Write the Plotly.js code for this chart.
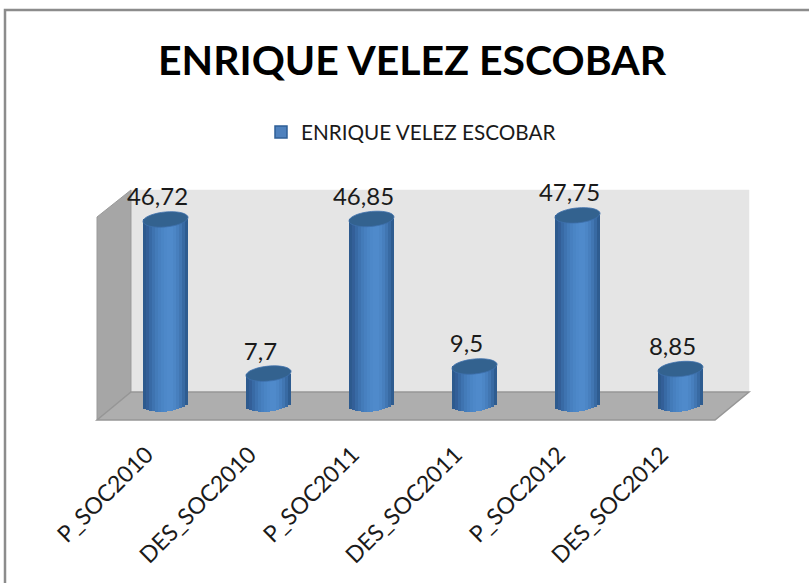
<!DOCTYPE html>
<html>
<head>
<meta charset="utf-8">
<script src="https://cdn.plot.ly/plotly-3.0.1.min.js"></script>
<style>html,body{margin:0;padding:0;background:#fff}#c{width:809px;height:583px}</style>
</head>
<body>
<div id="c"></div>
<script>
const categories = ['P_SOC2010','DES_SOC2010','P_SOC2011','DES_SOC2011','P_SOC2012','DES_SOC2012'];
const values = [46.72, 7.7, 46.85, 9.5, 47.75, 8.85];
const valueLabels = ['46,72','7,7','46,85','9,5','47,75','8,85'];
const seriesName = 'ENRIQUE VELEZ ESCOBAR';
const shades = ['#2d5a8e','#335f98','#386aa5','#3e73b0','#437bb9','#4780c0','#4a85c5','#4d88c9','#4f8acb','#4f8acb','#4c86c6','#477fbe','#4176b2','#386aa3','#2e5c90'];

const W = 809, H = 583;
const L = 97, R = 749, T = 190, B = 420;     // plot area, px
const slot = 103, unit = 3.95, zeroPx = 404; // px per category, px per value
const depth = 17, labelShift = -8, labelLift = 8, tickShift = -2;
const halfW = 22.5, halfH = 7.5, tilt = 2;   // cylinder cap, px

const px = x => (x - L) / (R - L);
const py = y => (B - y) / (B - T);
const yMin = -(B - zeroPx) / unit, yMax = (zeroPx - T) / unit;
const xMin = -0.5, xMax = -0.5 + (R - L) / slot;
const idx = categories.map((_, i) => i);
const shift = depth / slot;

const n = shades.length, sliceW = 2 * halfW / n;
const sliceTraces = shades.map((c, s) => {
  const u = -1 + (2 * s + 1) / n;
  const lift = -halfH * Math.sqrt(1 - u * u) + tilt * u;
  const base = values.map(() => lift / unit);
  return {
    type: 'bar', name: seriesName, showlegend: false, hoverinfo: 'skip',
    x: idx, y: values.map((v, i) => v - base[i]), base,
    width: (sliceW + 0.6) / slot,
    offset: (u * halfW - sliceW / 2 - 0.3) / slot + shift,
    marker: {color: c, line: {width: 0}}
  };
});

const legendTrace = {
  type: 'bar', name: seriesName, x: [null], y: [null], showlegend: true, hoverinfo: 'skip',
  marker: {color: '#4f81bd', line: {color: '#2f5f96', width: 1.5}}
};
const labelTrace = {
  type: 'scatter', mode: 'text', showlegend: false, hoverinfo: 'skip',
  x: idx.map(i => i + shift + labelShift / slot), y: values.map(v => v + labelLift / unit),
  text: valueLabels, textposition: 'top center',
  textfont: {family: 'Lato, sans-serif', size: 24, color: '#1a1a1a'},
  cliponaxis: false
};

function capPath(i, v) {
  const cx = i + shift, pts = [];
  for (let k = 0; k < 36; k++) {
    const t = k / 36 * 2 * Math.PI;
    const dx = halfW * Math.cos(t), dy = halfH * Math.sin(t) + tilt * Math.cos(t);
    pts.push((cx + dx / slot).toFixed(4) + ',' + (v + dy / unit).toFixed(3));
  }
  return 'M' + pts.join('L') + 'Z';
}
const poly = p => 'M' + p.map(q => px(q[0]).toFixed(4) + ',' + py(q[1]).toFixed(4)).join('L') + 'Z';
const paperShape = (p, fill, line, lw) => ({type: 'path', xref: 'paper', yref: 'paper', layer: 'below', path: poly(p), fillcolor: fill, line: {color: line, width: lw}});

const shapes = [
  {type: 'rect', xref: 'paper', yref: 'paper', layer: 'below', x0: px(5), x1: px(820), y0: py(10), y1: py(590), fillcolor: '#ffffff', line: {color: '#8c8c8c', width: 2.5}},
  paperShape([[131,190],[749,190],[749,392],[131,392]], '#e5e5e5', '#e5e5e5', 0.5),
  paperShape([[97,217],[131,190],[131,392],[97,420]], '#a6a6a6', '#9a9a9a', 1),
  paperShape([[97,420],[131,392],[749,392],[715,420]], '#aeaeae', '#969696', 1.5)
].concat(values.map((v, i) => ({
  type: 'path', xref: 'x', yref: 'y', layer: 'above', path: capPath(i, v),
  fillcolor: '#33628f', line: {color: '#3d70ac', width: 0.8}
})));

const layout = {
  width: W, height: H, autosize: false,
  margin: {l: L, r: W - R, t: T, b: H - B, pad: 0},
  paper_bgcolor: '#ffffff', plot_bgcolor: 'rgba(0,0,0,0)',
  title: {text: seriesName, font: {family: 'Lato, sans-serif', size: 41, color: '#000000', weight: 700},
          x: 412 / W, xanchor: 'center', y: 1 - 61 / H, yanchor: 'middle'},
  barmode: 'overlay', bargap: 0,
  showlegend: true,
  legend: {orientation: 'h', x: px(411), xanchor: 'center', y: py(132), yanchor: 'middle',
           bgcolor: 'rgba(0,0,0,0)', font: {family: 'Lato, sans-serif', size: 20.7, color: '#1a1a1a'}},
  xaxis: {type: 'linear', range: [xMin, xMax], tickmode: 'array', tickvals: idx.map(i => i + tickShift / slot), ticktext: categories,
          tickangle: -45, showgrid: false, zeroline: false, showline: false, ticks: 'outside', ticklen: 11, tickcolor: 'rgba(0,0,0,0)',
          tickfont: {family: 'Lato, sans-serif', size: 23, color: '#1a1a1a'}, automargin: false},
  yaxis: {type: 'linear', range: [yMin, yMax], showgrid: false, zeroline: false, showticklabels: false, showline: false, ticks: ''},
  shapes
};
Plotly.newPlot('c', [legendTrace].concat(sliceTraces, [labelTrace]), layout, {displayModeBar: false, responsive: false});
</script>
</body>
</html>
